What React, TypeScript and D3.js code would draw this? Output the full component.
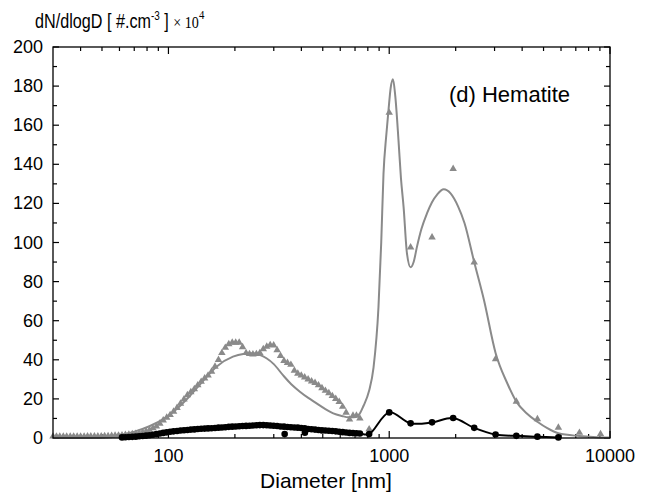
import React, { useEffect, useRef } from "react";
import * as d3 from "d3";

const width = 655;
const height = 501;
const margin = { top: 47, right: 45, bottom: 63, left: 53 };

// SMPS channels, nm
const smpsD = [
  30.0, 31.1, 32.2, 33.4, 34.6, 35.9, 37.2, 38.6, 40.0, 41.5, 43.0, 44.5, 46.2, 47.9, 49.6, 51.4, 53.3, 55.3,
  57.3, 59.4, 61.6, 63.8, 66.2, 68.6, 71.1, 73.7, 76.4, 79.2, 82.1, 85.1, 88.2, 91.4, 94.7, 98.2, 101.8, 105.5,
  109.4, 113.4, 117.6, 121.9, 126.3, 131.0, 135.8, 140.7, 145.9, 151.2, 156.8, 162.5, 168.5, 174.6, 181.0, 187.7,
  194.5, 201.7, 209.1, 216.7, 224.7, 232.9, 241.4, 250.3, 259.4, 268.9, 278.8, 289.0, 299.6, 310.6, 321.9, 333.7,
  346.0, 358.6, 371.8, 385.4, 399.5, 414.1, 429.3, 445.0, 461.3, 478.2, 495.8, 513.9, 532.8, 552.3, 572.5, 593.5,
  615.2, 637.8, 661.1, 685.4, 710.5, 736.5,
];

// hematite, SMPS (grey triangles)
const hematiteSmps = [
  0.8, 0.8, 0.8, 0.8, 0.8, 0.8, 0.8, 0.8, 0.8, 0.8, 0.9, 0.9, 0.9, 0.9, 0.9, 1.0, 1.0, 1.1,
  1.2, 1.3, 1.4, 1.6, 1.8, 2.0, 2.2, 2.5, 2.9, 3.4, 4.1, 5.0, 6.0, 7.4, 9.0, 10.4, 11.8, 13.5,
  15.4, 17.6, 19.8, 22.0, 23.5, 25.0, 27.0, 28.8, 30.5, 32.0, 34.0, 36.5, 40.0, 43.5, 46.2, 48.0,
  48.8, 48.8, 48.8, 46.5, 43.5, 43.0, 42.8, 43.0, 43.5, 45.5, 46.8, 47.6, 47.4, 45.0, 42.0, 39.5,
  38.5, 37.5, 34.5, 33.0, 32.0, 31.0, 30.0, 29.0, 28.2, 27.0, 25.5, 24.2, 23.0, 21.5, 20.0, 18.5,
  16.0, 13.0, 9.5, 11.5, 11.5, 10.0,
];

// blank, SMPS (black dots) from 61.6 nm on
const blankSmpsD = smpsD.slice(20);
const blankSmps = [
  0.3, 0.4, 0.5, 0.6, 0.7, 0.9, 1.0, 1.2, 1.4, 1.7, 2.0, 2.3, 2.6, 2.9, 3.2, 3.4,
  3.6, 3.8, 4.0, 4.1, 4.3, 4.4, 4.6, 4.7, 4.8, 4.9, 5.0, 5.1, 5.3, 5.4, 5.5, 5.7,
  5.8, 5.9, 6.0, 6.1, 6.2, 6.3, 6.4, 6.5, 6.6, 6.6, 6.5, 6.4, 6.3, 6.1, 5.9, 5.8,
  5.6, 5.5, 5.4, 5.3, 5.1, 4.9, 4.6, 4.5, 4.3, 4.1, 3.9, 3.8, 3.7, 3.6, 3.4, 3.2,
  3.0, 2.8, 2.6, 2.5, 2.4, 2.3,
];

// coarse channels, nm
const coarseD = [811, 1000, 1250, 1563, 1948, 2426, 3032, 3765, 4690, 5837, 7270, 9060];
const hematiteCoarse = [4.5, 166.4, 97.5, 102.6, 137.7, 89.9, 40.4, 18.6, 9.7, 5.3, 2.7, 2.0];
const blankCoarseD = [811, 1000, 1250, 1563, 1948, 2426, 3032, 3765, 4690, 5837];
const blankCoarse = [2.0, 13.1, 7.5, 8.0, 10.2, 5.2, 1.8, 1.1, 0.7, 0.3];
const blankOutD = [336, 415];
const blankOut = [2.0, 2.7];

// fitted curve for hematite
const fitD = [
  30, 40, 50, 58, 69, 82, 97, 108, 125, 143, 165, 196, 218, 240, 259, 278, 300, 331, 360, 394, 430, 469,
  510, 558, 610, 653, 690, 730, 765, 810, 849, 894, 920, 942, 970, 993, 1015, 1040, 1065, 1102, 1130,
  1162, 1203, 1250, 1290, 1336, 1400, 1484, 1560, 1648, 1766, 1900, 2050, 2192, 2426, 2686, 3032, 3425,
  3765, 4200, 4690, 5200, 5837, 7270, 9000, 10000,
];
const fitY = [
  0.3, 0.3, 0.6, 1.3, 3.0, 6.0, 10.5, 14.5, 21.5, 29.0, 36.5, 41.6, 43.0, 43.3, 42.5, 40.8, 37.8, 32.0, 27.5,
  23.7, 20.5, 17.7, 15.0, 12.6, 11.3, 10.6, 10.6, 12.0, 16.5, 24.0, 36.0, 67, 100, 135, 155, 168, 179, 183.5,
  175, 152, 133, 118, 94.5, 87.3, 90, 97.9, 107, 115, 120.5, 124.5, 127.2, 125, 118.5, 110, 90, 70.6, 43.5,
  28, 18.6, 12.5, 8.3, 5.0, 2.4, 1.0, 0.3, 0.2,
];

const xMajor = [100, 1000, 10000];
const xMinor = [40, 50, 60, 70, 80, 90, 200, 300, 400, 500, 600, 700, 800, 900, 2000, 3000, 4000, 5000, 6000, 7000, 8000, 9000];
const yMajor = [0, 20, 40, 60, 80, 100, 120, 140, 160, 180, 200];
const yMinor = [10, 30, 50, 70, 90, 110, 130, 150, 170, 190];

const grey = "#8a8a8a";
const font = "'Liberation Sans', Arial, sans-serif";
const serif = "'Liberation Serif', 'Times New Roman', serif";

export default function App() {
  const ref = useRef<SVGSVGElement>(null);

  useEffect(() => {
    const svg = d3.select(ref.current);
    svg.selectAll("*").remove();

    const x = d3.scaleLog().domain([30, 10000]).range([margin.left, width - margin.right]);
    const y = d3.scaleLinear().domain([0, 200]).range([height - margin.bottom, margin.top]);
    const iw = width - margin.left - margin.right;
    const ih = height - margin.top - margin.bottom;

    // ticks, pointing inward on all four sides
    const tickG = svg.append("g").attr("stroke", "#000").attr("stroke-width", 1.2);
    const drawX = (vals: number[], len: number) => {
      vals.forEach((v) => {
        tickG.append("line").attr("x1", x(v)).attr("x2", x(v)).attr("y1", y(0)).attr("y2", y(0) - len);
        tickG.append("line").attr("x1", x(v)).attr("x2", x(v)).attr("y1", y(200)).attr("y2", y(200) + len);
      });
    };
    const drawY = (vals: number[], len: number) => {
      vals.forEach((v) => {
        tickG.append("line").attr("y1", y(v)).attr("y2", y(v)).attr("x1", margin.left).attr("x2", margin.left + len);
        tickG.append("line").attr("y1", y(v)).attr("y2", y(v)).attr("x1", margin.left + iw).attr("x2", margin.left + iw - len);
      });
    };
    drawX(xMajor, 7);
    drawX(xMinor, 4);
    drawY(yMajor, 6);
    drawY(yMinor, 4);

    // fit curve
    svg.append("path")
      .datum(fitD.map((d, i) => [d, fitY[i]]))
      .attr("fill", "none")
      .attr("stroke", grey)
      .attr("stroke-width", 2)
      .attr("d", d3.line<number[]>().x((d) => x(d[0])).y((d) => y(d[1])).curve(d3.curveMonotoneX));

    // hematite triangles
    const tri = d3.symbol().type(d3.symbolTriangle).size(24);
    const hem = smpsD.map((d, i) => [d, hematiteSmps[i]]).concat(coarseD.map((d, i) => [d, hematiteCoarse[i]]));
    svg.append("g")
      .selectAll("path")
      .data(hem)
      .join("path")
      .attr("d", tri)
      .attr("fill", grey)
      .attr("transform", (d) => `translate(${x(d[0])},${y(d[1])})`);

    // blank line + dots
    const blank = blankSmpsD.map((d, i) => [d, blankSmps[i]]).concat(blankCoarseD.map((d, i) => [d, blankCoarse[i]]));
    svg.append("path")
      .datum(blank)
      .attr("fill", "none")
      .attr("stroke", "#000")
      .attr("stroke-width", 2)
      .attr("d", d3.line<number[]>().x((d) => x(d[0])).y((d) => y(d[1])).curve(d3.curveCatmullRom.alpha(0.5)));

    svg.append("g")
      .selectAll("circle")
      .data(blankSmpsD.map((d, i) => [d, blankSmps[i]]))
      .join("circle")
      .attr("cx", (d) => x(d[0]))
      .attr("cy", (d) => y(d[1]))
      .attr("r", 3.3)
      .attr("fill", "#000");

    svg.append("g")
      .selectAll("circle")
      .data(blankCoarseD.map((d, i) => [d, blankCoarse[i]]).concat(blankOutD.map((d, i) => [d, blankOut[i]])))
      .join("circle")
      .attr("cx", (d) => x(d[0]))
      .attr("cy", (d) => y(d[1]))
      .attr("r", 3.3)
      .attr("fill", "#000");

    // frame
    svg.append("rect")
      .attr("x", margin.left)
      .attr("y", margin.top)
      .attr("width", iw)
      .attr("height", ih)
      .attr("fill", "none")
      .attr("stroke", "#000")
      .attr("stroke-width", 1.3);

    // tick labels
    svg.append("g")
      .selectAll("text")
      .data(xMajor)
      .join("text")
      .attr("x", (d) => x(d))
      .attr("y", height - margin.bottom + 24)
      .attr("text-anchor", "middle")
      .attr("font-family", font)
      .attr("font-size", 18)
      .text((d) => d3.format("d")(d));

    svg.append("g")
      .selectAll("text")
      .data(yMajor)
      .join("text")
      .attr("x", margin.left - 10)
      .attr("y", (d) => y(d) + 6)
      .attr("text-anchor", "end")
      .attr("font-family", font)
      .attr("font-size", 18)
      .text((d) => d);

    svg.append("text")
      .attr("x", 326)
      .attr("y", 488)
      .attr("text-anchor", "middle")
      .attr("font-family", font)
      .attr("font-size", 21)
      .text("Diameter [nm]");

    svg.append("text")
      .attr("x", 570)
      .attr("y", 102)
      .attr("text-anchor", "end")
      .attr("font-family", font)
      .attr("font-size", 22)
      .text("(d) Hematite");

    // y label
    const yl = svg.append("text")
      .attr("transform", "translate(35,28) scale(0.83,1)")
      .attr("font-family", font)
      .attr("font-size", 19.5);
    yl.append("tspan").text("dN/dlogD [ #.cm");
    yl.append("tspan").attr("dy", -8).attr("font-size", 12).text("-3");
    yl.append("tspan").attr("dy", 8).text(" ] ");
    yl.append("tspan").attr("font-family", serif).attr("font-size", 17).text("× 10");
    yl.append("tspan").attr("dy", -9).attr("font-family", serif).attr("font-size", 13).text("4");
  }, []);

  return (
    <div style={{ margin: -8 }}>
      <svg ref={ref} width={width} height={height} style={{ display: "block", background: "#fff" }} />
    </div>
  );
}
